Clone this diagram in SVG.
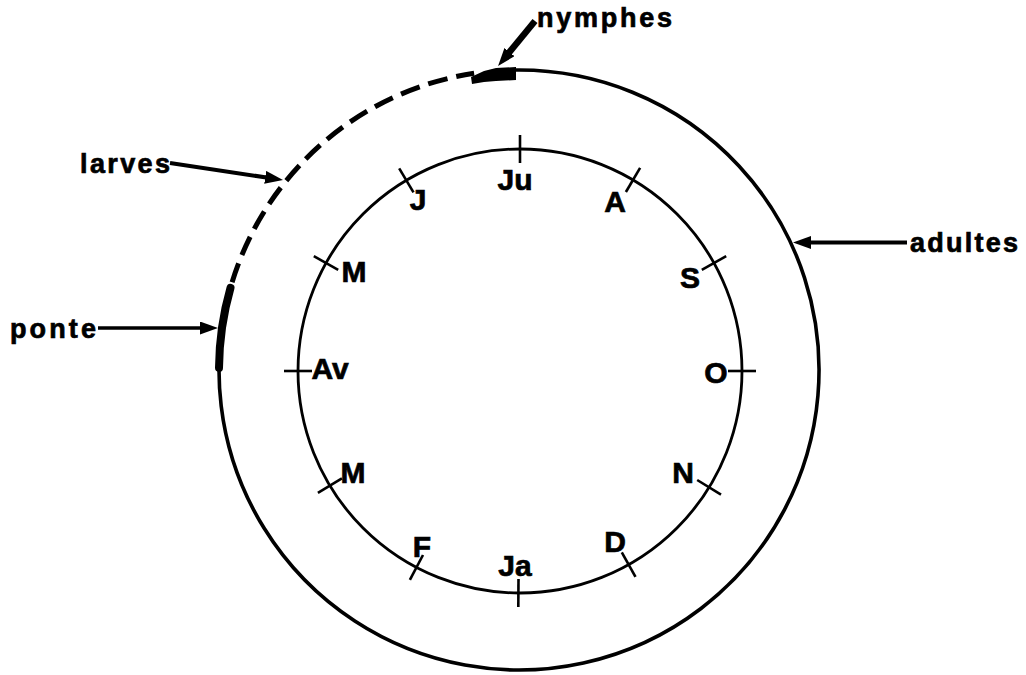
<svg xmlns="http://www.w3.org/2000/svg" width="1026" height="675" viewBox="0 0 1026 675">
<style>
  .lbl { font-family: "Liberation Sans", Arial, Helvetica, sans-serif; font-weight: bold; fill: #000; stroke: #000; stroke-width: 0.7; }
  .big { font-size: 27px; }
  .mon { font-size: 30px; text-anchor: middle; }
  .circ { fill: none; stroke: #000; }
  .tick { stroke: #000; stroke-width: 2.6; fill: none; }
  .arr { stroke: #000; fill: none; marker-end: url(#ah); }
</style>
<defs>
  <marker id="ah" markerUnits="userSpaceOnUse" markerWidth="18" markerHeight="13" viewBox="0 0 18 13" refX="8" refY="6.5" orient="auto">
    <path d="M0,0 L18,6.5 L0,13 Z" fill="#000"/>
  </marker>
</defs>
<rect width="1026" height="675" fill="#fff"/>

<g id="inner-circle">
  <circle class="circ" cx="520" cy="371" r="222" stroke-width="2.8"/>
</g>

<g id="outer-cycle">
  <path id="adultes-arc" class="circ" stroke-width="3.6" d="M515.9,70.0 A300,300 0 1 1 230.5,287.8"/>
  <path id="ponte-arc" class="circ" stroke-width="8" stroke-linecap="round" d="M219.0,367.9 A300,300 0 0 1 230.5,287.8"/>
  <path id="larves-arc" class="circ" stroke-width="5" stroke-dasharray="20 9" d="M232.1,282.3 A300,300 0 0 1 474.1,73.3"/>
  <path id="nymphes-bar" fill="#000" d="M471,77 L484,71 L496,68 L516,67 L516,80 L496,81 L484,82 L472,84 Z"/>
</g>

<g id="ticks">
  <line class="tick" x1="520" y1="163" x2="520" y2="135"/>
  <line class="tick" x1="625.9" y1="192.0" x2="640.1" y2="167.9"/>
  <line class="tick" x1="701.8" y1="269.8" x2="726.2" y2="256.2"/>
  <line class="tick" x1="728" y1="371" x2="756" y2="371"/>
  <line class="tick" x1="697.2" y1="480.0" x2="721.0" y2="494.7"/>
  <line class="tick" x1="621.8" y1="552.4" x2="635.5" y2="576.8"/>
  <line class="tick" x1="518.5" y1="579" x2="518.3" y2="607"/>
  <line class="tick" x1="423.0" y1="555.0" x2="409.9" y2="579.8"/>
  <line class="tick" x1="341.9" y1="478.4" x2="317.9" y2="492.9"/>
  <line class="tick" x1="312" y1="371" x2="284" y2="371"/>
  <line class="tick" x1="338.2" y1="269.8" x2="313.8" y2="256.2"/>
  <line class="tick" x1="413.5" y1="192.3" x2="399.2" y2="168.3"/>
</g>

<g id="months">
  <text class="lbl mon" x="515" y="190">Ju</text>
  <text class="lbl mon" x="615" y="212">A</text>
  <text class="lbl mon" x="690" y="288">S</text>
  <text class="lbl mon" x="716" y="383">O</text>
  <text class="lbl mon" x="683" y="483">N</text>
  <text class="lbl mon" x="615" y="552">D</text>
  <text class="lbl mon" x="515" y="576">Ja</text>
  <text class="lbl mon" x="422" y="557">F</text>
  <text class="lbl mon" x="353" y="483">M</text>
  <text class="lbl mon" x="330" y="379">Av</text>
  <text class="lbl mon" x="354" y="282">M</text>
  <text class="lbl mon" x="418" y="210">J</text>
</g>

<g id="connectors">
  <line class="arr" stroke-width="6.5" x1="535" y1="21" x2="504.4" y2="58.3"/>
  <line class="arr" stroke-width="4" x1="170" y1="163" x2="273.1" y2="178.5"/>
  <line class="arr" stroke-width="4" x1="907" y1="242.5" x2="803" y2="242.5"/>
  <line class="arr" stroke-width="3.5" x1="98" y1="328" x2="208" y2="328"/>
</g>

<g id="label-nymphes"><text class="lbl big" x="537" y="27" textLength="135" lengthAdjust="spacing">nymphes</text></g>
<g id="label-larves"><text class="lbl big" x="80" y="173" textLength="90" lengthAdjust="spacing">larves</text></g>
<g id="label-adultes"><text class="lbl big" x="910" y="252" textLength="108" lengthAdjust="spacing">adultes</text></g>
<g id="label-ponte"><text class="lbl big" x="10" y="338" textLength="86" lengthAdjust="spacing">ponte</text></g>
</svg>
